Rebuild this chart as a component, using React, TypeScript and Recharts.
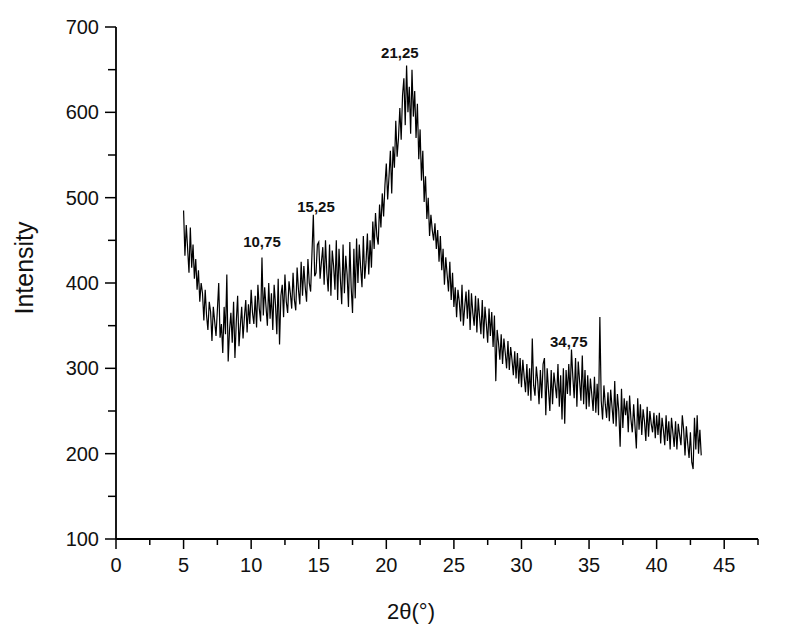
import { LineChart, Line, XAxis, YAxis, ReferenceDot } from 'recharts'

// XRD scan, sampled every 0.1° starting at 5°
const START_ANGLE = 5
const STEP = 0.1

const SCAN_05_10 = [
  485, 432, 468, 440, 412, 465, 418, 445, 405, 428,
  392, 415, 378, 400, 388, 356, 392, 362, 345, 378,
  366, 332, 372, 355, 338, 368, 400, 336, 352, 318,
  372, 340, 410, 308, 345, 365, 330, 378, 312, 355,
  385, 326, 350, 372, 335, 360, 380, 342, 375, 352,
]

const SCAN_10_15 = [
  392, 365, 352, 385, 348, 398, 370, 355, 430, 362,
  395, 372, 350, 400, 358, 388, 345, 398, 375, 340,
  405, 328, 385, 398, 360, 410, 378, 365, 402, 388,
  370, 412, 380, 368, 418, 392, 375, 425, 385, 420,
  395, 378, 428, 400, 390, 435, 480, 408, 412, 445,
]

const SCAN_15_20 = [
  448, 405, 425, 442, 398, 450, 412, 390, 445, 385,
  438, 420, 392, 450, 380, 440, 405, 375, 445, 388,
  432, 410, 372, 448, 395, 365, 440, 382, 452, 400,
  445, 418, 395, 455, 405, 425, 458, 410, 450, 418,
  472, 440, 482, 455, 445, 492, 465, 505, 478, 515,
]

const SCAN_20_25 = [
  540, 498, 525, 555, 505, 560, 535, 590, 548, 570,
  605, 568, 620, 640, 585, 655, 600, 630, 575, 650,
  595, 625, 570, 610, 545, 580, 520, 555, 495, 525,
  475, 500, 455, 480, 462, 450, 470, 440, 462, 425,
  455, 415, 440, 398, 430, 410, 390, 425, 380, 412,
]

const SCAN_25_30 = [
  372, 395, 360, 392, 378, 355, 398, 350, 372, 390,
  358, 392, 345, 388, 365, 350, 385, 342, 382, 360,
  340, 380, 335, 372, 352, 330, 370, 338, 366, 325,
  362, 285, 345, 330, 310, 340, 305, 335, 318, 300,
  332, 298, 325, 310, 292, 320, 288, 318, 282, 312,
]

const SCAN_30_35 = [
  278, 310, 290, 272, 305, 268, 300, 262, 335, 280,
  268, 302, 285, 258, 298, 265, 305, 312, 245, 300,
  275, 250, 298, 258, 295, 280, 265, 305, 255, 292,
  240, 300, 235, 298, 270, 305, 268, 322, 290, 265,
  312, 255, 308, 285, 262, 315, 258, 298, 252, 292,
]

const SCAN_35_40 = [
  255, 288, 270, 250, 290, 248, 282, 245, 360, 262,
  240, 280, 258, 242, 272, 238, 275, 255, 235, 285,
  232, 270, 250, 208, 276, 230, 265, 245, 262, 225,
  268, 240, 225, 258, 232, 206, 265, 228, 258, 222,
  252, 238, 215, 255, 220, 250, 235, 225, 248, 218,
]

const SCAN_40_43 = [
  245, 222, 248, 212, 242, 228, 210, 245, 215, 238,
  205, 242, 225, 208, 238, 205, 235, 222, 210, 245,
  228, 198, 232, 212, 195, 225, 190, 182, 242, 205,
  245, 200, 228, 198,
]

const INTENSITY = [
  ...SCAN_05_10, ...SCAN_10_15, ...SCAN_15_20, ...SCAN_20_25,
  ...SCAN_25_30, ...SCAN_30_35, ...SCAN_35_40, ...SCAN_40_43,
]

const X_TICKS = [0, 2.5, 5, 7.5, 10, 12.5, 15, 17.5, 20, 22.5, 25, 27.5, 30, 32.5, 35, 37.5, 40, 42.5, 45, 47.5]
const Y_TICKS = [100, 150, 200, 250, 300, 350, 400, 450, 500, 550, 600, 650, 700]

// peak labels (angle, intensity where the text sits)
const PEAK_LABELS = ['10,75', '15,25', '21,25', '34,75']
const PEAK_X = [10.8, 14.8, 21.0, 33.5]
const PEAK_Y = [449, 489, 670, 331]

const FONT = '"Liberation Sans", Arial, Helvetica, sans-serif'

const data = INTENSITY.map((v, i) => ({
  angle: Math.round((START_ANGLE + i * STEP) * 100) / 100,
  intensity: v,
}))

const XTick = ({ x, y, payload }: any) => {
  const major = payload.value % 5 === 0
  return (
    <g>
      <line x1={x} y1={y} x2={x} y2={y + (major ? 10 : 6)} stroke="#000" strokeWidth={1.5} />
      {major && (
        <text x={x} y={y + 26} textAnchor="middle" dominantBaseline="central"
          fontSize={20} fontFamily={FONT} fill="#111">
          {payload.value}
        </text>
      )}
    </g>
  )
}

const YTick = ({ x, y, payload }: any) => {
  const major = payload.value % 100 === 0
  return (
    <g>
      <line x1={x} y1={y} x2={x - (major ? 11 : 8)} y2={y} stroke="#000" strokeWidth={1.5} />
      {major && (
        <text x={x - 17} y={y} textAnchor="end" dominantBaseline="central"
          fontSize={20} fontFamily={FONT} fill="#111">
          {payload.value}
        </text>
      )}
    </g>
  )
}

export default function App() {
  return (
    <div style={{ position: 'absolute', left: 0, top: 0, width: 793, height: 640, background: '#fff' }}>
      <LineChart width={793} height={640} data={data}
        margin={{ top: 27, right: 35, bottom: 61, left: 56 }}>
        <XAxis
          type="number"
          dataKey="angle"
          domain={[0, 47.5]}
          ticks={X_TICKS}
          interval={0}
          height={40}
          tickSize={0}
          tickMargin={0}
          tick={<XTick />}
          axisLine={{ stroke: '#000', strokeWidth: 1.8 }}
          allowDataOverflow
          label={{
            content: () => (
              <text x={411} y={611} textAnchor="middle" dominantBaseline="central"
                fontSize={22} fontFamily={FONT} fill="#111">
                2θ(°)
              </text>
            ),
          }}
        />
        <YAxis
          type="number"
          domain={[100, 700]}
          ticks={Y_TICKS}
          interval={0}
          width={60}
          tickSize={0}
          tickMargin={0}
          tick={<YTick />}
          axisLine={{ stroke: '#000', strokeWidth: 1.8 }}
          allowDataOverflow
          label={{
            content: () => (
              <text x={24} y={268} transform="rotate(-90 24 268)" textAnchor="middle"
                dominantBaseline="central" fontSize={25} fontFamily={FONT} fill="#111">
                Intensity
              </text>
            ),
          }}
        />
        <Line
          type="linear"
          dataKey="intensity"
          stroke="#000"
          strokeWidth={1.2}
          dot={false}
          isAnimationActive={false}
        />
        {PEAK_LABELS.map((lbl, i) => (
          <ReferenceDot
            key={lbl}
            x={PEAK_X[i]}
            y={PEAK_Y[i]}
            r={0}
            stroke="none"
            label={{
              value: lbl,
              position: 'center',
              fontSize: 15,
              fontWeight: 'bold',
              fontFamily: FONT,
              fill: '#111',
            }}
          />
        ))}
      </LineChart>
    </div>
  )
}
